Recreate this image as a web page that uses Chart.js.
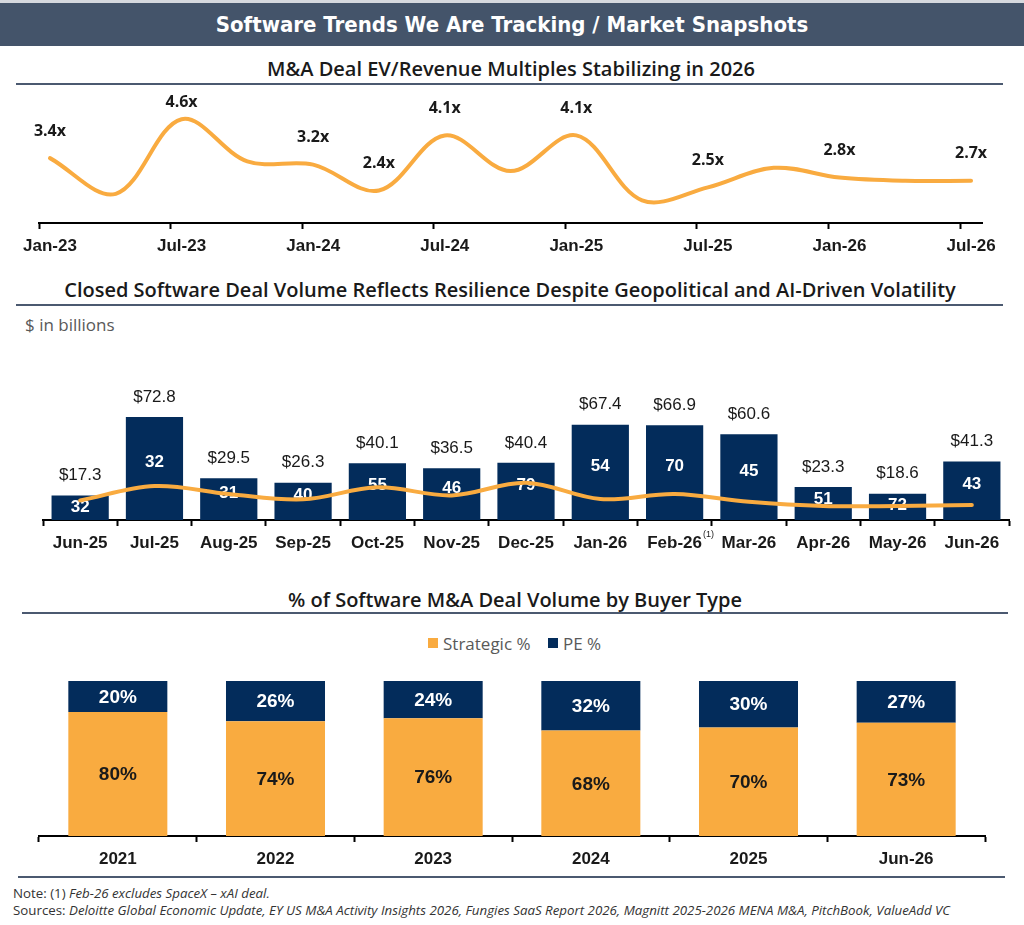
<!DOCTYPE html>
<html>
<head>
<meta charset="utf-8">
<script src="https://cdn.jsdelivr.net/npm/chart.js@4.4.1/dist/chart.umd.min.js"></script>
<style>
  body { margin: 0; background: #fff; }
  #page { position: relative; width: 1024px; height: 925px; overflow: hidden; font-family: "Open Sans", "Noto Sans", sans-serif; color: #1a1a1a; }
  .abs { position: absolute; }
  .ctr { transform: translate(-50%, -50%); white-space: nowrap; }
  .mid { transform: translateY(-50%); white-space: nowrap; }
  .banner { left: 0; top: 3px; width: 1024px; height: 43px; background: #44546A; color: #fff; text-align: center;
            font: bold 22px "Liberation Sans Narrow", "DejaVu Sans Condensed", sans-serif; line-height: 43px; }
  .topline { left: 0; top: 0; width: 1024px; height: 3px; background: #d6d9de; }
  .title { font-size: 20px; font-weight: 600; color: #1a1a1a; }
  .rule { height: 2px; background: #4B5970; }
  .gray { color: #595959; font-size: 17px; }
  .swatch { width: 10px; height: 10px; }
  .foot { font-size: 13.3px; color: #333; }
  .foot i { font-style: italic; }
  canvas { position: absolute; left: 0; }
</style>
</head>
<body>
<div id="page">
  <div class="abs topline"></div>
  <div class="abs banner">Software Trends We Are Tracking / Market Snapshots</div>

  <div class="abs ctr title" style="left:511px; top:68px;">M&amp;A Deal EV/Revenue Multiples Stabilizing in 2026</div>
  <div class="abs rule" style="left:16px; top:83px; width:987px;"></div>
  <canvas id="multiples" width="1024" height="175" style="top:88px;"></canvas>

  <div class="abs ctr title" style="left:510px; top:289px;">Closed Software Deal Volume Reflects Resilience Despite Geopolitical and AI-Driven Volatility</div>
  <div class="abs rule" style="left:16px; top:304px; width:987px;"></div>
  <div class="abs mid gray" style="left:25px; top:324px;">$ in billions</div>
  <canvas id="volume" width="1024" height="230" style="top:335px;"></canvas>

  <div class="abs ctr title" style="left:515px; top:599px;">% of Software M&amp;A Deal Volume by Buyer Type</div>
  <div class="abs rule" style="left:22px; top:612px; width:986px;"></div>
  <div class="abs swatch" style="left:428px; top:638px; background:#F9AB40;"></div>
  <div class="abs mid gray" style="left:443px; top:643px;">Strategic %</div>
  <div class="abs swatch" style="left:548px; top:638px; background:#032C5B;"></div>
  <div class="abs mid gray" style="left:563px; top:643px;">PE %</div>
  <canvas id="buyers" width="1024" height="215" style="top:660px;"></canvas>

  <div class="abs rule" style="left:18px; top:876px; width:987px;"></div>
  <div class="abs mid foot" style="left:13px; top:893px;">Note: (1) <i>Feb-26 excludes SpaceX – xAI deal.</i></div>
  <div class="abs mid foot" style="left:13px; top:910px;">Sources: <i>Deloitte Global Economic Update, EY US M&amp;A Activity Insights 2026, Fungies SaaS Report 2026, Magnitt 2025-2026 MENA M&amp;A, PitchBook, ValueAdd VC</i></div>
</div>

<script>
// ---- data ----
const monthNames = ['Jan', 'Feb', 'Mar', 'Apr', 'May', 'Jun', 'Jul', 'Aug', 'Sep', 'Oct', 'Nov', 'Dec']

// EV/Revenue multiples, quarterly
const multipleQuarters = ['Jan-23', 'Apr-23', 'Jul-23', 'Oct-23', 'Jan-24', 'Apr-24', 'Jul-24', 'Oct-24',
  'Jan-25', 'Apr-25', 'Jul-25', 'Oct-25', 'Jan-26', 'Apr-26', 'Jul-26']
const multipleValues = [3.4, 2.3, 4.6, 3.3, 3.2, 2.4, 4.1, 3.0, 4.1, 2.1, 2.5, 3.1, 2.8, 2.7, 2.7]
const multipleLabeled = ['Jan-23', 'Jul-23', 'Jan-24', 'Apr-24', 'Jul-24', 'Jan-25', 'Jul-25', 'Jan-26', 'Jul-26']
const multipleTicks = ['Jan-23', 'Jul-23', 'Jan-24', 'Jul-24', 'Jan-25', 'Jul-25', 'Jan-26', 'Jul-26']
const multipleAxisEnd = 'Aug-26'

// closed deal volume, monthly
const volumeMonths = ['Jun-25', 'Jul-25', 'Aug-25', 'Sep-25', 'Oct-25', 'Nov-25', 'Dec-25',
  'Jan-26', 'Feb-26', 'Mar-26', 'Apr-26', 'May-26', 'Jun-26']
const volumeValues = [17.3, 72.8, 29.5, 26.3, 40.1, 36.5, 40.4, 67.4, 66.9, 60.6, 23.3, 18.6, 41.3]
const dealCounts = [32, 32, 31, 40, 55, 46, 79, 54, 70, 45, 51, 72, 43]
const volumeTrend = [13.8, 24.0, 18.4, 14.6, 23.1, 17.4, 26.3, 14.8, 18.4, 12.9, 9.9, 9.9, 10.6]
const footnoteMonth = 'Feb-26'

// buyer type split
const buyerYears = ['2021', '2022', '2023', '2024', '2025', 'Jun-26']
const strategicPct = [80, 74, 76, 68, 70, 73]
const pePct = [20, 26, 24, 32, 30, 27]

const orange = '#F9AB40'
const navy = '#032C5B'
const ink = '#1a1a1a'

Chart.defaults.font.family = '"Liberation Sans", Arial, sans-serif'
Chart.defaults.color = ink

// month offset from Jan-23
function monthIndex(label) {
  let [m, y] = label.split('-')
  return monthNames.indexOf(m) + (Number(y) - 23) * 12
}

let axisLine = { display: true, color: '#000', width: 2 }
let tickMarks = { display: true, drawOnChartArea: false, drawTicks: true, tickLength: 6, tickWidth: 2, tickColor: '#000' }
let tickFont = { size: 17, weight: 'bold' }

// ---- chart 1: multiples line ----
new Chart(document.getElementById('multiples'), {
  type: 'line',
  data: {
    datasets: [{
      data: multipleQuarters.map((q, i) => ({ x: monthIndex(q) + 0.5, y: multipleValues[i] })),
      borderColor: orange,
      borderWidth: 4,
      pointRadius: 0,
      tension: 0.35,
      borderCapStyle: 'round'
    }]
  },
  options: {
    responsive: false,
    animation: false,
    layout: { padding: { left: 39, right: 42, top: 2, bottom: 0 } },
    plugins: { legend: { display: false }, tooltip: { enabled: false } },
    scales: {
      x: {
        type: 'linear',
        min: 0,
        max: monthIndex(multipleAxisEnd),
        afterBuildTicks: scale => { scale.ticks = multipleTicks.map(t => ({ value: monthIndex(t) })) },
        afterFit: scale => { scale.height = 40 },
        grid: tickMarks,
        border: axisLine,
        ticks: {
          font: tickFont,
          padding: 7,
          labelOffset: 11,
          maxRotation: 0,
          autoSkip: false,
          callback: v => monthNames[v % 12] + '-' + (23 + Math.floor(v / 12))
        }
      },
      y: { display: false, min: 1.4, max: 5.5 }
    }
  },
  plugins: [{
    id: 'multipleLabels',
    afterDatasetsDraw(chart) {
      let ctx = chart.ctx
      let meta = chart.getDatasetMeta(0)
      ctx.save()
      ctx.font = 'bold 16px "Open Sans", "Noto Sans", sans-serif'
      ctx.fillStyle = ink
      ctx.textAlign = 'center'
      ctx.textBaseline = 'middle'
      multipleQuarters.forEach((q, i) => {
        if (!multipleLabeled.includes(q)) return
        let pt = meta.data[i]
        let y = Math.max(pt.y - 27, chart.chartArea.top + 12)
        ctx.fillText(multipleValues[i].toFixed(1) + 'x', pt.x, y)
      })
      ctx.restore()
    }
  }]
})

// ---- chart 2: deal volume bars + trend line ----
new Chart(document.getElementById('volume'), {
  type: 'bar',
  data: {
    labels: volumeMonths,
    datasets: [
      {
        type: 'line',
        data: volumeTrend,
        borderColor: orange,
        borderWidth: 4,
        pointRadius: 0,
        tension: 0.35,
        borderCapStyle: 'round',
        order: 0
      },
      {
        type: 'bar',
        data: volumeValues,
        backgroundColor: navy,
        categoryPercentage: 1,
        barPercentage: 0.77,
        order: 1
      }
    ]
  },
  options: {
    responsive: false,
    animation: false,
    layout: { padding: { left: 43, right: 15, top: 43.5, bottom: 5 } },
    plugins: { legend: { display: false }, tooltip: { enabled: false } },
    scales: {
      x: {
        afterFit: scale => { scale.height = 40 },
        grid: { ...tickMarks, offset: true },
        border: axisLine,
        ticks: { font: tickFont, padding: 7, maxRotation: 0, autoSkip: false }
      },
      y: { display: false, min: 0, max: 100 }
    }
  },
  plugins: [{
    id: 'volumeLabels',
    // deal counts go under the trend line
    afterDatasetDraw(chart, args) {
      if (args.index !== 1) return
      let ctx = chart.ctx
      ctx.save()
      ctx.font = 'bold 17px "Liberation Sans", Arial, sans-serif'
      ctx.fillStyle = '#fff'
      ctx.textAlign = 'center'
      ctx.textBaseline = 'middle'
      args.meta.data.forEach((bar, i) => {
        let y = Math.max(bar.y + 12, (bar.y + bar.base) / 2 - 6)
        ctx.fillText(dealCounts[i], bar.x, y)
      })
      ctx.restore()
    },
    afterDatasetsDraw(chart) {
      let ctx = chart.ctx
      let meta = chart.getDatasetMeta(1)
      ctx.save()
      ctx.font = '17px "Liberation Sans", Arial, sans-serif'
      ctx.fillStyle = ink
      ctx.textAlign = 'center'
      ctx.textBaseline = 'middle'
      meta.data.forEach((bar, i) => {
        ctx.fillText('$' + volumeValues[i].toFixed(1), bar.x, bar.y - 20)
      })
      // footnote marker next to Feb-26
      let xs = chart.scales.x
      let i = volumeMonths.indexOf(footnoteMonth)
      ctx.font = 'bold 17px "Liberation Sans", Arial, sans-serif'
      let w = ctx.measureText(footnoteMonth).width
      ctx.font = '9px "Liberation Sans", Arial, sans-serif'
      ctx.textAlign = 'left'
      ctx.fillText('(1)', xs.getPixelForTick(i) + w / 2 + 1, chart.chartArea.bottom + 15)
      ctx.restore()
    }
  }]
})

// ---- chart 3: buyer type stacked bars ----
new Chart(document.getElementById('buyers'), {
  type: 'bar',
  data: {
    labels: buyerYears,
    datasets: [
      { label: 'Strategic %', data: strategicPct, backgroundColor: orange, categoryPercentage: 1, barPercentage: 0.628 },
      { label: 'PE %', data: pePct, backgroundColor: navy, categoryPercentage: 1, barPercentage: 0.628 }
    ]
  },
  options: {
    responsive: false,
    animation: false,
    layout: { padding: { left: 39, right: 39, top: 21, bottom: 5 } },
    plugins: { legend: { display: false }, tooltip: { enabled: false } },
    scales: {
      x: {
        stacked: true,
        afterFit: scale => { scale.height = 34 },
        grid: { ...tickMarks, offset: true },
        border: axisLine,
        ticks: { font: tickFont, padding: 7, maxRotation: 0 }
      },
      y: { display: false, stacked: true, min: 0, max: 100 }
    }
  },
  plugins: [{
    id: 'buyerLabels',
    afterDatasetsDraw(chart) {
      let ctx = chart.ctx
      ctx.save()
      ctx.font = 'bold 19px "Liberation Sans", Arial, sans-serif'
      ctx.textAlign = 'center'
      ctx.textBaseline = 'middle'
      chart.data.datasets.forEach((ds, d) => {
        ctx.fillStyle = d === 0 ? ink : '#fff'
        chart.getDatasetMeta(d).data.forEach((bar, i) => {
          ctx.fillText(ds.data[i] + '%', bar.x, (bar.y + bar.base) / 2 + 1)
        })
      })
      ctx.restore()
    }
  }]
})
</script>
</body>
</html>
